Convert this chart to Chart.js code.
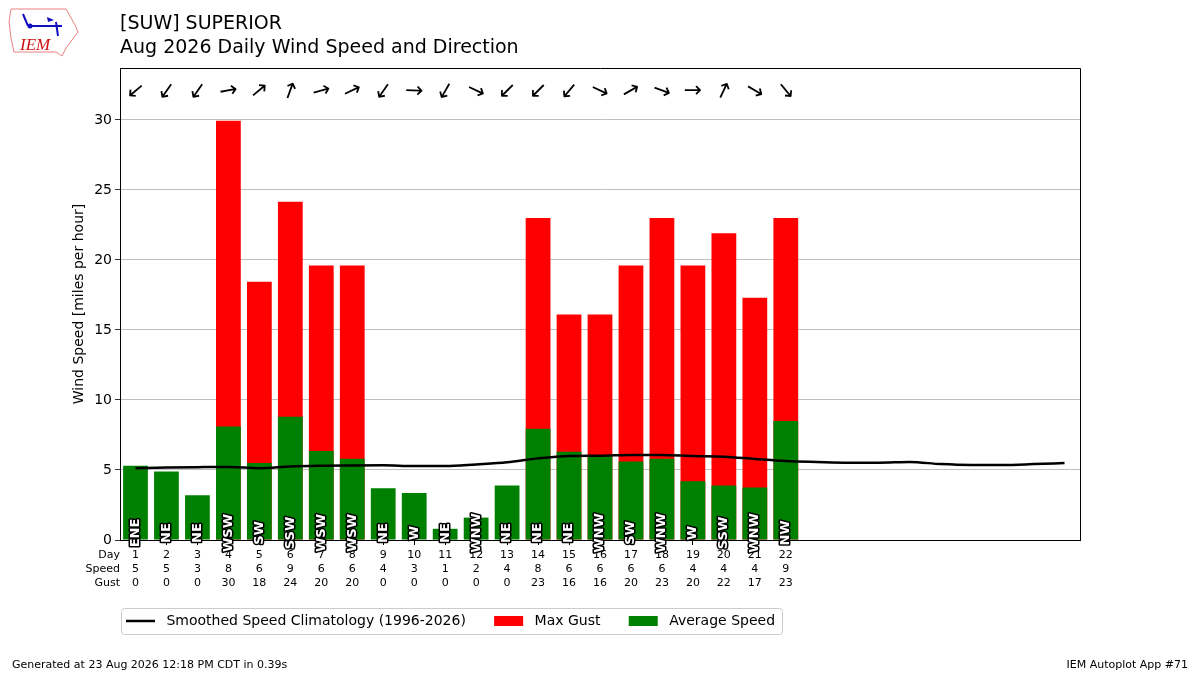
<!DOCTYPE html>
<html>
<head>
<meta charset="utf-8">
<script src="https://cdn.jsdelivr.net/npm/chart.js@4.4.0/dist/chart.umd.min.js"></script>
<style>
  body { margin: 0; background: #fff; }
  canvas { display: block; }
</style>
</head>
<body>
<canvas id="myChart" width="1200" height="675"></canvas>
<script>
// days of the month (x categories)
const days = ["1", "2", "3", "4", "5", "6", "7", "8", "9", "10", "11", "12", "13", "14", "15", "16",
  "17", "18", "19", "20", "21", "22", "23", "24", "25", "26", "27", "28", "29", "30", "31"];

// observed days 1..22
const avgSpeed = [5.3, 4.9, 3.2, 8.1, 5.5, 8.8, 6.35, 5.8, 3.7, 3.35, 0.8, 1.6, 3.9, 7.95, 6.3, 6.0,
  5.6, 5.8, 4.2, 3.9, 3.75, 8.5];
const maxGust = [0, 0, 0, 29.95, 18.45, 24.15, 19.6, 19.6, 0, 0, 0, 0, 0, 23.0, 16.1, 16.1,
  19.6, 23.0, 19.6, 21.9, 17.3, 23.0];
const speedRow = [5, 5, 3, 8, 6, 9, 6, 6, 4, 3, 1, 2, 4, 8, 6, 6, 6, 6, 4, 4, 4, 9];
const gustRow = [0, 0, 0, 30, 18, 24, 20, 20, 0, 0, 0, 0, 0, 23, 16, 16, 20, 23, 20, 22, 17, 23];
const dirLabels = ["ENE", "NE", "NE", "WSW", "SW", "SSW", "WSW", "WSW", "NE", "W", "NE", "WNW",
  "NE", "NE", "NE", "WNW", "SW", "WNW", "W", "SSW", "WNW", "NW"];
// average direction the wind came from (deg)
const dirFrom = [50, 35, 35, 260, 230, 200, 255, 245, 35, 272, 30, 295, 45, 45, 40, 295,
  240, 290, 270, 205, 300, 320];

// smoothed climatology for the whole month
const climo = [5.12, 5.17, 5.2, 5.22, 5.13, 5.25, 5.3, 5.32, 5.33, 5.28, 5.28, 5.4, 5.55, 5.83, 6.0, 6.02,
  6.07, 6.07, 6.0, 5.95, 5.79, 5.64, 5.57, 5.52, 5.52, 5.57, 5.42, 5.36, 5.36, 5.42, 5.5];

const yTicks = [0, 5, 10, 15, 20, 25, 30];
const arrowLevel = 32.1;

const FONT = "DejaVu Sans";

const decorations = {
  id: "decorations",
  afterDraw(chart) {
    const ctx = chart.ctx;
    const area = chart.chartArea;
    const x = chart.scales.x;
    const y = chart.scales.y;
    ctx.save();

    // frame top / right
    ctx.strokeStyle = "#000";
    ctx.lineWidth = 1;
    ctx.beginPath();
    ctx.moveTo(area.left, area.top + 0.5);
    ctx.lineTo(area.right + 0.5, area.top + 0.5);
    ctx.lineTo(area.right + 0.5, area.bottom);
    ctx.stroke();

    // wind arrows
    ctx.fillStyle = "#000";
    ctx.font = "22px " + FONT;
    ctx.textAlign = "center";
    ctx.textBaseline = "middle";
    dirFrom.forEach((d, i) => {
      const px = x.getPixelForValue(i);
      const py = y.getPixelForValue(arrowLevel);
      ctx.save();
      ctx.translate(px, py);
      ctx.rotate(((d + 180 - 90) * Math.PI) / 180);
      ctx.fillText("\u2192", 0, 1);
      ctx.restore();
    });

    // direction text inside bars
    ctx.font = "bold 13px " + FONT;
    ctx.lineJoin = "round";
    dirLabels.forEach((t, i) => {
      const px = x.getPixelForValue(i);
      const py = y.getPixelForValue(0.5);
      ctx.save();
      ctx.translate(px, py);
      ctx.rotate(-Math.PI / 2);
      ctx.strokeStyle = "#000";
      ctx.lineWidth = 3;
      ctx.strokeText(t, 0, 0);
      ctx.fillStyle = "#fff";
      ctx.fillText(t, 0, 0);
      ctx.restore();
    });

    // row names for the table under the axis
    ctx.fillStyle = "#000";
    ctx.font = "11px " + FONT;
    ctx.textAlign = "right";
    ["Day", "Speed", "Gust"].forEach((t, r) => {
      ctx.fillText(t, area.left, area.bottom + 15 + r * 14);
    });

    // titles
    ctx.textAlign = "left";
    ctx.font = "19px " + FONT;
    ctx.fillText("[SUW] SUPERIOR", area.left, 24);
    ctx.fillText("Aug 2026 Daily Wind Speed and Direction", area.left, 48);

    // footer
    ctx.font = "11px " + FONT;
    ctx.fillText("Generated at 23 Aug 2026 12:18 PM CDT in 0.39s", 12, 665);
    ctx.textAlign = "right";
    ctx.fillText("IEM Autoplot App #71", 1188, 665);

    // legend frame
    const boxes = chart.legend.legendHitBoxes;
    if (boxes && boxes.length) {
      const first = boxes[0];
      const last = boxes[boxes.length - 1];
      const l = first.left - 5;
      const r = last.left + last.width + 7;
      const t = first.top - 6;
      const b = first.top + first.height + 6;
      ctx.strokeStyle = "#cccccc";
      ctx.lineWidth = 1;
      ctx.beginPath();
      ctx.roundRect(l + 0.5, t + 0.5, r - l, b - t, 3);
      ctx.stroke();
    }

    // IEM logo (rough)
    ctx.strokeStyle = "#e88080";
    ctx.lineWidth = 1;
    ctx.beginPath();
    ctx.moveTo(11, 9);
    ctx.lineTo(66, 9);
    ctx.lineTo(70, 16);
    ctx.lineTo(75, 25);
    ctx.lineTo(78, 32);
    ctx.lineTo(72, 40);
    ctx.lineTo(66, 48);
    ctx.lineTo(62, 56);
    ctx.lineTo(56, 52);
    ctx.lineTo(14, 52);
    ctx.lineTo(11, 38);
    ctx.lineTo(9, 22);
    ctx.closePath();
    ctx.stroke();
    ctx.strokeStyle = "#1010c0";
    ctx.fillStyle = "#1010c0";
    ctx.lineWidth = 2;
    ctx.beginPath();
    ctx.moveTo(28, 26);
    ctx.lineTo(62, 26);
    ctx.moveTo(56, 22);
    ctx.lineTo(58, 36);
    ctx.moveTo(23, 14);
    ctx.lineTo(28, 26);
    ctx.stroke();
    ctx.beginPath();
    ctx.arc(30, 26, 2.5, 0, Math.PI * 2);
    ctx.fill();
    ctx.beginPath();
    ctx.moveTo(47, 17);
    ctx.lineTo(54, 20);
    ctx.lineTo(48, 22);
    ctx.fill();
    ctx.fillStyle = "#d01010";
    ctx.font = "italic 17px 'Liberation Serif'";
    ctx.textAlign = "left";
    ctx.fillText("IEM", 20, 46);

    ctx.restore();
  }
};

const ctx = document.getElementById("myChart").getContext("2d");
new Chart(ctx, {
  type: "bar",
  data: {
    labels: days,
    datasets: [
      {
        type: "line",
        label: "Smoothed Speed Climatology (1996-2026)",
        data: climo,
        borderColor: "#000",
        backgroundColor: "#000",
        borderWidth: 2.5,
        pointRadius: 0,
        tension: 0.4,
        cubicInterpolationMode: "monotone",
        pointStyle: "line",
        order: 0,
      },
      {
        label: "Max Gust",
        data: maxGust,
        backgroundColor: "#ff0000",
        borderWidth: 0,
        grouped: false,
        barPercentage: 0.8,
        categoryPercentage: 1.0,
        pointStyle: "rect",
        order: 2,
      },
      {
        label: "Average Speed",
        data: avgSpeed,
        backgroundColor: "#008000",
        borderWidth: 0,
        grouped: false,
        barPercentage: 0.8,
        categoryPercentage: 1.0,
        pointStyle: "rect",
        order: 1,
      },
    ],
  },
  options: {
    responsive: false,
    animation: false,
    devicePixelRatio: 1,
    layout: { padding: { top: 68, left: 60, right: 120, bottom: 37 } },
    plugins: {
      tooltip: { enabled: false },
      title: { display: false },
      legend: {
        position: "bottom",
        align: "start",
        fullSize: false,
        labels: {
          usePointStyle: true,
          pointStyleWidth: 29,
          boxHeight: 10,
          padding: 6,
          color: "#000",
          font: { family: FONT, size: 14 },
          sort: (a, b) => a.datasetIndex - b.datasetIndex,
          generateLabels: (chart) => {
            const items = Chart.defaults.plugins.legend.labels.generateLabels(chart);
            items.sort((a, b) => a.datasetIndex - b.datasetIndex);
            return items.map((it, i) => {
              it.text = " " + it.text + (i < items.length - 1 ? "     " : "");
              return it;
            });
          },
        },
      },
    },
    scales: {
      x: {
        offset: true,
        grid: {
          offset: false,
          drawOnChartArea: false,
          tickLength: 5,
          tickColor: (c) => (c.index < speedRow.length ? "#000" : "rgba(0,0,0,0)"),
        },
        border: { color: "#000", width: 1 },
        ticks: {
          autoSkip: false,
          maxRotation: 0,
          padding: 3,
          color: "#000",
          font: { family: FONT, size: 11, lineHeight: 14 / 11 },
          callback: (v, i) => (i < speedRow.length ? [days[i], String(speedRow[i]), String(gustRow[i])] : ""),
        },
        afterFit: (s) => { s.height = 68; },
      },
      y: {
        min: 0,
        max: 33.71,
        afterBuildTicks: (s) => { s.ticks = yTicks.map((v) => ({ value: v })); },
        grid: { color: "#b0b0b0", lineWidth: 0.8, tickLength: 5, tickColor: "#000" },
        border: { color: "#000", width: 1 },
        ticks: { padding: 3, color: "#000", font: { family: FONT, size: 14 } },
        title: {
          display: true,
          text: "Wind Speed [miles per hour]",
          color: "#000",
          font: { family: FONT, size: 14 },
          padding: { top: 11, bottom: 0 },
        },
        afterFit: (s) => { s.width = 60; },
      },
    },
  },
  plugins: [decorations],
});
</script>
</body>
</html>
